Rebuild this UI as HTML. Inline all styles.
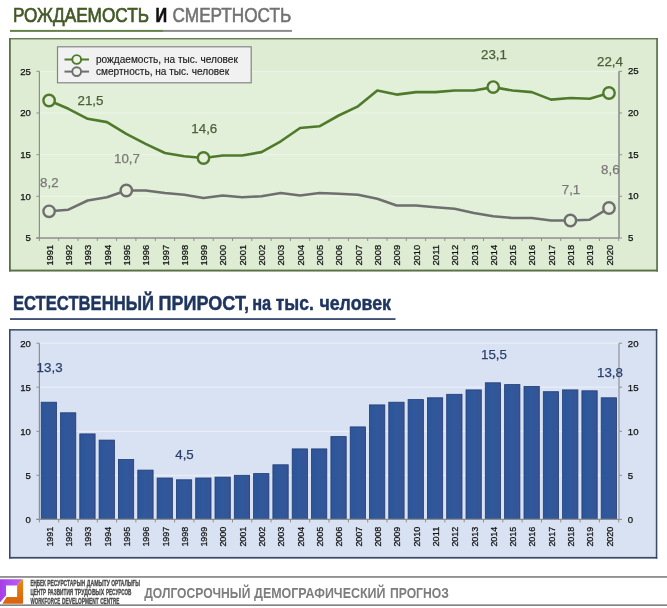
<!DOCTYPE html><html lang="ru"><head><meta charset="utf-8"><title>Рождаемость и смертность</title>
<style>html,body{margin:0;padding:0;background:#fff;}body{width:667px;height:608px;overflow:hidden;}svg{display:block;}text{font-family:"Liberation Sans",Arial,sans-serif;}</style></head><body>
<svg width="667" height="608" viewBox="0 0 667 608">
<defs><linearGradient id="lp" x1="0" y1="0" x2="1" y2="0"><stop offset="0" stop-color="#a63ee8"/><stop offset="0.7" stop-color="#b656f2"/><stop offset="1" stop-color="#c060e0"/></linearGradient><linearGradient id="lo" x1="0" y1="0" x2="0" y2="1"><stop offset="0" stop-color="#e58a12"/><stop offset="1" stop-color="#d9620f"/></linearGradient><linearGradient id="bg" x1="0" y1="0" x2="1" y2="0"><stop offset="0" stop-color="#2c569a"/><stop offset="0.5" stop-color="#30589b"/><stop offset="1" stop-color="#365495"/></linearGradient></defs>
<rect width="667" height="608" fill="#fff"/>
<text x="13" y="22.3" font-size="20.6" fill="#435927" stroke="#435927" stroke-width="0.7" textLength="136" lengthAdjust="spacingAndGlyphs">РОЖДАЕМОСТЬ</text>
<text x="155.4" y="22.3" font-size="20.6" fill="#111" stroke="#111" stroke-width="0.7" font-weight="bold" textLength="11.6" lengthAdjust="spacingAndGlyphs">И</text>
<text x="172.6" y="22.3" font-size="20.6" fill="#727272" stroke="#727272" stroke-width="0.6" textLength="118.6" lengthAdjust="spacingAndGlyphs">СМЕРТНОСТЬ</text>
<rect x="10" y="29.9" width="153" height="2" fill="#66804a"/>
<rect x="163" y="29.9" width="129" height="2" fill="#8c8c8c"/>
<rect x="9" y="38.1" width="648.9" height="233.4" fill="#deecd4"/>
<rect x="9" y="38.1" width="648.9" height="1.3" fill="#5a7046"/>
<rect x="9" y="269.6" width="648.9" height="1.9" fill="#5a7046"/>
<rect x="9" y="38.1" width="1.8" height="233.4" fill="#5a7046"/>
<rect x="656.2" y="38.1" width="1.7" height="233.4" fill="#5a7046"/>
<rect x="39.4" y="71.3" width="579.6" height="166.7" fill="#e2f0da"/>
<line x1="39.4" x2="619" y1="71.3" y2="71.3" stroke="#eef6e8" stroke-width="1"/>
<line x1="39.4" x2="619" y1="113.0" y2="113.0" stroke="#eef6e8" stroke-width="1"/>
<line x1="39.4" x2="619" y1="154.7" y2="154.7" stroke="#eef6e8" stroke-width="1"/>
<line x1="39.4" x2="619" y1="196.3" y2="196.3" stroke="#eef6e8" stroke-width="1"/>
<line x1="39.4" x2="39.4" y1="71.3" y2="238.0" stroke="#8f8f8f" stroke-width="1.2"/>
<line x1="619" x2="619" y1="71.3" y2="238.0" stroke="#8f8f8f" stroke-width="1.6"/>
<line x1="36.4" x2="619" y1="238.0" y2="238.0" stroke="#8f8f8f" stroke-width="1.3"/>
<line x1="36.4" x2="39.4" y1="71.3" y2="71.3" stroke="#8f8f8f" stroke-width="1"/>
<line x1="619" x2="622" y1="71.3" y2="71.3" stroke="#8f8f8f" stroke-width="1"/>
<text x="30.9" y="74.6" font-size="9.6" fill="#111" stroke="#111" stroke-width="0.25" text-anchor="end">25</text>
<text x="628" y="74.4" font-size="9.6" fill="#111" stroke="#111" stroke-width="0.25">25</text>
<line x1="36.4" x2="39.4" y1="113.0" y2="113.0" stroke="#8f8f8f" stroke-width="1"/>
<line x1="619" x2="622" y1="113.0" y2="113.0" stroke="#8f8f8f" stroke-width="1"/>
<text x="30.9" y="116.3" font-size="9.6" fill="#111" stroke="#111" stroke-width="0.25" text-anchor="end">20</text>
<text x="628" y="116.1" font-size="9.6" fill="#111" stroke="#111" stroke-width="0.25">20</text>
<line x1="36.4" x2="39.4" y1="154.7" y2="154.7" stroke="#8f8f8f" stroke-width="1"/>
<line x1="619" x2="622" y1="154.7" y2="154.7" stroke="#8f8f8f" stroke-width="1"/>
<text x="30.9" y="158.0" font-size="9.6" fill="#111" stroke="#111" stroke-width="0.25" text-anchor="end">15</text>
<text x="628" y="157.8" font-size="9.6" fill="#111" stroke="#111" stroke-width="0.25">15</text>
<line x1="36.4" x2="39.4" y1="196.3" y2="196.3" stroke="#8f8f8f" stroke-width="1"/>
<line x1="619" x2="622" y1="196.3" y2="196.3" stroke="#8f8f8f" stroke-width="1"/>
<text x="30.9" y="199.6" font-size="9.6" fill="#111" stroke="#111" stroke-width="0.25" text-anchor="end">10</text>
<text x="628" y="199.4" font-size="9.6" fill="#111" stroke="#111" stroke-width="0.25">10</text>
<line x1="36.4" x2="39.4" y1="238.0" y2="238.0" stroke="#8f8f8f" stroke-width="1"/>
<line x1="619" x2="622" y1="238.0" y2="238.0" stroke="#8f8f8f" stroke-width="1"/>
<text x="30.9" y="241.3" font-size="9.6" fill="#111" stroke="#111" stroke-width="0.25" text-anchor="end">5</text>
<text x="628" y="241.1" font-size="9.6" fill="#111" stroke="#111" stroke-width="0.25">5</text>
<line x1="39.4" x2="39.4" y1="238.0" y2="241.0" stroke="#8f8f8f" stroke-width="1"/>
<line x1="58.7" x2="58.7" y1="238.0" y2="241.0" stroke="#8f8f8f" stroke-width="1"/>
<line x1="78.0" x2="78.0" y1="238.0" y2="241.0" stroke="#8f8f8f" stroke-width="1"/>
<line x1="97.3" x2="97.3" y1="238.0" y2="241.0" stroke="#8f8f8f" stroke-width="1"/>
<line x1="116.6" x2="116.6" y1="238.0" y2="241.0" stroke="#8f8f8f" stroke-width="1"/>
<line x1="135.9" x2="135.9" y1="238.0" y2="241.0" stroke="#8f8f8f" stroke-width="1"/>
<line x1="155.3" x2="155.3" y1="238.0" y2="241.0" stroke="#8f8f8f" stroke-width="1"/>
<line x1="174.6" x2="174.6" y1="238.0" y2="241.0" stroke="#8f8f8f" stroke-width="1"/>
<line x1="193.9" x2="193.9" y1="238.0" y2="241.0" stroke="#8f8f8f" stroke-width="1"/>
<line x1="213.2" x2="213.2" y1="238.0" y2="241.0" stroke="#8f8f8f" stroke-width="1"/>
<line x1="232.5" x2="232.5" y1="238.0" y2="241.0" stroke="#8f8f8f" stroke-width="1"/>
<line x1="251.8" x2="251.8" y1="238.0" y2="241.0" stroke="#8f8f8f" stroke-width="1"/>
<line x1="271.1" x2="271.1" y1="238.0" y2="241.0" stroke="#8f8f8f" stroke-width="1"/>
<line x1="290.4" x2="290.4" y1="238.0" y2="241.0" stroke="#8f8f8f" stroke-width="1"/>
<line x1="309.7" x2="309.7" y1="238.0" y2="241.0" stroke="#8f8f8f" stroke-width="1"/>
<line x1="329.0" x2="329.0" y1="238.0" y2="241.0" stroke="#8f8f8f" stroke-width="1"/>
<line x1="348.4" x2="348.4" y1="238.0" y2="241.0" stroke="#8f8f8f" stroke-width="1"/>
<line x1="367.7" x2="367.7" y1="238.0" y2="241.0" stroke="#8f8f8f" stroke-width="1"/>
<line x1="387.0" x2="387.0" y1="238.0" y2="241.0" stroke="#8f8f8f" stroke-width="1"/>
<line x1="406.3" x2="406.3" y1="238.0" y2="241.0" stroke="#8f8f8f" stroke-width="1"/>
<line x1="425.6" x2="425.6" y1="238.0" y2="241.0" stroke="#8f8f8f" stroke-width="1"/>
<line x1="444.9" x2="444.9" y1="238.0" y2="241.0" stroke="#8f8f8f" stroke-width="1"/>
<line x1="464.2" x2="464.2" y1="238.0" y2="241.0" stroke="#8f8f8f" stroke-width="1"/>
<line x1="483.5" x2="483.5" y1="238.0" y2="241.0" stroke="#8f8f8f" stroke-width="1"/>
<line x1="502.8" x2="502.8" y1="238.0" y2="241.0" stroke="#8f8f8f" stroke-width="1"/>
<line x1="522.1" x2="522.1" y1="238.0" y2="241.0" stroke="#8f8f8f" stroke-width="1"/>
<line x1="541.5" x2="541.5" y1="238.0" y2="241.0" stroke="#8f8f8f" stroke-width="1"/>
<line x1="560.8" x2="560.8" y1="238.0" y2="241.0" stroke="#8f8f8f" stroke-width="1"/>
<line x1="580.1" x2="580.1" y1="238.0" y2="241.0" stroke="#8f8f8f" stroke-width="1"/>
<line x1="599.4" x2="599.4" y1="238.0" y2="241.0" stroke="#8f8f8f" stroke-width="1"/>
<line x1="618.7" x2="618.7" y1="238.0" y2="241.0" stroke="#8f8f8f" stroke-width="1"/>
<text transform="translate(52.7,265.6) rotate(-90)" font-size="9.9" fill="#111" stroke="#111" stroke-width="0.25" textLength="20.8" lengthAdjust="spacingAndGlyphs">1991</text>
<text transform="translate(72.0,265.6) rotate(-90)" font-size="9.9" fill="#111" stroke="#111" stroke-width="0.25" textLength="20.8" lengthAdjust="spacingAndGlyphs">1992</text>
<text transform="translate(91.3,265.6) rotate(-90)" font-size="9.9" fill="#111" stroke="#111" stroke-width="0.25" textLength="20.8" lengthAdjust="spacingAndGlyphs">1993</text>
<text transform="translate(110.6,265.6) rotate(-90)" font-size="9.9" fill="#111" stroke="#111" stroke-width="0.25" textLength="20.8" lengthAdjust="spacingAndGlyphs">1994</text>
<text transform="translate(129.9,265.6) rotate(-90)" font-size="9.9" fill="#111" stroke="#111" stroke-width="0.25" textLength="20.8" lengthAdjust="spacingAndGlyphs">1995</text>
<text transform="translate(149.2,265.6) rotate(-90)" font-size="9.9" fill="#111" stroke="#111" stroke-width="0.25" textLength="20.8" lengthAdjust="spacingAndGlyphs">1996</text>
<text transform="translate(168.5,265.6) rotate(-90)" font-size="9.9" fill="#111" stroke="#111" stroke-width="0.25" textLength="20.8" lengthAdjust="spacingAndGlyphs">1997</text>
<text transform="translate(187.8,265.6) rotate(-90)" font-size="9.9" fill="#111" stroke="#111" stroke-width="0.25" textLength="20.8" lengthAdjust="spacingAndGlyphs">1998</text>
<text transform="translate(207.1,265.6) rotate(-90)" font-size="9.9" fill="#111" stroke="#111" stroke-width="0.25" textLength="20.8" lengthAdjust="spacingAndGlyphs">1999</text>
<text transform="translate(226.4,265.6) rotate(-90)" font-size="9.9" fill="#111" stroke="#111" stroke-width="0.25" textLength="20.8" lengthAdjust="spacingAndGlyphs">2000</text>
<text transform="translate(245.8,265.6) rotate(-90)" font-size="9.9" fill="#111" stroke="#111" stroke-width="0.25" textLength="20.8" lengthAdjust="spacingAndGlyphs">2001</text>
<text transform="translate(265.1,265.6) rotate(-90)" font-size="9.9" fill="#111" stroke="#111" stroke-width="0.25" textLength="20.8" lengthAdjust="spacingAndGlyphs">2002</text>
<text transform="translate(284.4,265.6) rotate(-90)" font-size="9.9" fill="#111" stroke="#111" stroke-width="0.25" textLength="20.8" lengthAdjust="spacingAndGlyphs">2003</text>
<text transform="translate(303.7,265.6) rotate(-90)" font-size="9.9" fill="#111" stroke="#111" stroke-width="0.25" textLength="20.8" lengthAdjust="spacingAndGlyphs">2004</text>
<text transform="translate(323.0,265.6) rotate(-90)" font-size="9.9" fill="#111" stroke="#111" stroke-width="0.25" textLength="20.8" lengthAdjust="spacingAndGlyphs">2005</text>
<text transform="translate(342.3,265.6) rotate(-90)" font-size="9.9" fill="#111" stroke="#111" stroke-width="0.25" textLength="20.8" lengthAdjust="spacingAndGlyphs">2006</text>
<text transform="translate(361.6,265.6) rotate(-90)" font-size="9.9" fill="#111" stroke="#111" stroke-width="0.25" textLength="20.8" lengthAdjust="spacingAndGlyphs">2007</text>
<text transform="translate(380.9,265.6) rotate(-90)" font-size="9.9" fill="#111" stroke="#111" stroke-width="0.25" textLength="20.8" lengthAdjust="spacingAndGlyphs">2008</text>
<text transform="translate(400.2,265.6) rotate(-90)" font-size="9.9" fill="#111" stroke="#111" stroke-width="0.25" textLength="20.8" lengthAdjust="spacingAndGlyphs">2009</text>
<text transform="translate(419.5,265.6) rotate(-90)" font-size="9.9" fill="#111" stroke="#111" stroke-width="0.25" textLength="20.8" lengthAdjust="spacingAndGlyphs">2010</text>
<text transform="translate(438.9,265.6) rotate(-90)" font-size="9.9" fill="#111" stroke="#111" stroke-width="0.25" textLength="20.8" lengthAdjust="spacingAndGlyphs">2011</text>
<text transform="translate(458.2,265.6) rotate(-90)" font-size="9.9" fill="#111" stroke="#111" stroke-width="0.25" textLength="20.8" lengthAdjust="spacingAndGlyphs">2012</text>
<text transform="translate(477.5,265.6) rotate(-90)" font-size="9.9" fill="#111" stroke="#111" stroke-width="0.25" textLength="20.8" lengthAdjust="spacingAndGlyphs">2013</text>
<text transform="translate(496.8,265.6) rotate(-90)" font-size="9.9" fill="#111" stroke="#111" stroke-width="0.25" textLength="20.8" lengthAdjust="spacingAndGlyphs">2014</text>
<text transform="translate(516.1,265.6) rotate(-90)" font-size="9.9" fill="#111" stroke="#111" stroke-width="0.25" textLength="20.8" lengthAdjust="spacingAndGlyphs">2015</text>
<text transform="translate(535.4,265.6) rotate(-90)" font-size="9.9" fill="#111" stroke="#111" stroke-width="0.25" textLength="20.8" lengthAdjust="spacingAndGlyphs">2016</text>
<text transform="translate(554.7,265.6) rotate(-90)" font-size="9.9" fill="#111" stroke="#111" stroke-width="0.25" textLength="20.8" lengthAdjust="spacingAndGlyphs">2017</text>
<text transform="translate(574.0,265.6) rotate(-90)" font-size="9.9" fill="#111" stroke="#111" stroke-width="0.25" textLength="20.8" lengthAdjust="spacingAndGlyphs">2018</text>
<text transform="translate(593.3,265.6) rotate(-90)" font-size="9.9" fill="#111" stroke="#111" stroke-width="0.25" textLength="20.8" lengthAdjust="spacingAndGlyphs">2019</text>
<text transform="translate(612.6,265.6) rotate(-90)" font-size="9.9" fill="#111" stroke="#111" stroke-width="0.25" textLength="20.8" lengthAdjust="spacingAndGlyphs">2020</text>
<polyline points="49.1,100.5 68.4,108.8 87.7,118.8 107.0,122.1 126.3,133.8 145.6,143.8 164.9,153.0 184.2,156.3 203.5,158.0 222.8,155.5 242.2,155.5 261.5,152.1 280.8,141.3 300.1,128.0 319.4,126.3 338.7,115.5 358.0,106.3 377.3,90.5 396.6,94.6 415.9,92.1 435.3,92.1 454.6,90.5 473.9,90.5 493.2,87.1 512.5,90.5 531.8,92.1 551.1,99.6 570.4,98.0 589.7,98.8 609.0,93.0" fill="none" stroke="#4f7a2b" stroke-width="2.6" stroke-linejoin="round" stroke-linecap="round"/>
<polyline points="49.1,211.3 68.4,209.7 87.7,200.5 107.0,197.2 126.3,190.5 145.6,190.5 164.9,193.0 184.2,194.7 203.5,198.0 222.8,195.5 242.2,197.2 261.5,196.3 280.8,193.0 300.1,195.5 319.4,193.0 338.7,193.8 358.0,194.7 377.3,198.8 396.6,205.5 415.9,205.5 435.3,207.2 454.6,208.8 473.9,213.0 493.2,216.3 512.5,218.0 531.8,218.0 551.1,220.5 570.4,220.5 589.7,219.7 609.0,208.0" fill="none" stroke="#6f6f6f" stroke-width="2.6" stroke-linejoin="round" stroke-linecap="round"/>
<circle cx="49.1" cy="100.5" r="5.7" fill="#e4f0db" stroke="#4f7a2b" stroke-width="2.4"/>
<circle cx="203.5" cy="158.0" r="5.7" fill="#e4f0db" stroke="#4f7a2b" stroke-width="2.4"/>
<circle cx="493.2" cy="87.1" r="5.7" fill="#e4f0db" stroke="#4f7a2b" stroke-width="2.4"/>
<circle cx="609.0" cy="93.0" r="5.7" fill="#e4f0db" stroke="#4f7a2b" stroke-width="2.4"/>
<circle cx="49.1" cy="211.3" r="5.7" fill="#e4f0db" stroke="#6f6f6f" stroke-width="2.4"/>
<circle cx="126.3" cy="190.5" r="5.7" fill="#e4f0db" stroke="#6f6f6f" stroke-width="2.4"/>
<circle cx="570.4" cy="220.5" r="5.7" fill="#e4f0db" stroke="#6f6f6f" stroke-width="2.4"/>
<circle cx="609.0" cy="208.0" r="5.7" fill="#e4f0db" stroke="#6f6f6f" stroke-width="2.4"/>
<text x="90.5" y="105" font-size="13.33" fill="#4b5f37" stroke="#4b5f37" stroke-width="0.25" text-anchor="middle">21,5</text>
<text x="204.3" y="133" font-size="13.33" fill="#4b5f37" stroke="#4b5f37" stroke-width="0.25" text-anchor="middle">14,6</text>
<text x="494" y="58.5" font-size="13.33" fill="#4b5f37" stroke="#4b5f37" stroke-width="0.25" text-anchor="middle">23,1</text>
<text x="610" y="66.3" font-size="13.33" fill="#4b5f37" stroke="#4b5f37" stroke-width="0.25" text-anchor="middle">22,4</text>
<text x="49.3" y="187.4" font-size="13.33" fill="#7c7777" stroke="#7c7777" stroke-width="0.25" text-anchor="middle">8,2</text>
<text x="127" y="163" font-size="13.33" fill="#7c7777" stroke="#7c7777" stroke-width="0.25" text-anchor="middle">10,7</text>
<text x="571" y="193.8" font-size="13.33" fill="#7c7777" stroke="#7c7777" stroke-width="0.25" text-anchor="middle">7,1</text>
<text x="610.3" y="173.8" font-size="13.33" fill="#7c7777" stroke="#7c7777" stroke-width="0.25" text-anchor="middle">8,6</text>
<rect x="57.5" y="46.8" width="193.7" height="36" fill="#f1f1f1" stroke="#858585" stroke-width="1.2"/>
<line x1="64.5" x2="89" y1="59.5" y2="59.5" stroke="#4f7a2b" stroke-width="2"/>
<circle cx="76.7" cy="59.5" r="4.4" fill="#eef3ea" stroke="#4f7a2b" stroke-width="1.9"/>
<text x="96" y="62.9" font-size="10.08" fill="#1a1a1a" stroke="#1a1a1a" stroke-width="0.15">рождаемость, на тыс. человек</text>
<line x1="64.5" x2="89" y1="71.6" y2="71.6" stroke="#6f6f6f" stroke-width="2"/>
<circle cx="76.7" cy="71.6" r="4.4" fill="#eef3ea" stroke="#6f6f6f" stroke-width="1.9"/>
<text x="96" y="75.0" font-size="10.08" fill="#1a1a1a" stroke="#1a1a1a" stroke-width="0.15">смертность, на тыс. человек</text>
<text x="12.9" y="309.5" font-size="19.7" fill="#1f3560" stroke="#1f3560" stroke-width="0.45" font-weight="bold" textLength="141" lengthAdjust="spacingAndGlyphs">ЕСТЕСТВЕННЫЙ</text>
<text x="158.6" y="309.5" font-size="19.7" fill="#1f3560" stroke="#1f3560" stroke-width="0.45" font-weight="bold" textLength="90.5" lengthAdjust="spacingAndGlyphs">ПРИРОСТ,</text>
<text x="252.2" y="309.5" font-size="19.7" fill="#1f3560" stroke="#1f3560" stroke-width="0.45" font-weight="bold" textLength="19" lengthAdjust="spacingAndGlyphs">на</text>
<text x="275.8" y="309.5" font-size="19.7" fill="#1f3560" stroke="#1f3560" stroke-width="0.45" font-weight="bold" textLength="38" lengthAdjust="spacingAndGlyphs">тыс.</text>
<text x="319.4" y="309.5" font-size="19.7" fill="#1f3560" stroke="#1f3560" stroke-width="0.45" font-weight="bold" textLength="71.6" lengthAdjust="spacingAndGlyphs">человек</text>
<rect x="10" y="318.2" width="385.5" height="1.7" fill="#2d3f66"/>
<rect x="9" y="329.1" width="648.3" height="229.5" fill="#d9e2f3"/>
<rect x="9" y="329.1" width="648.3" height="1.5" fill="#3c4a69"/>
<rect x="9" y="556.9" width="648.3" height="1.7" fill="#3c4a69"/>
<rect x="9" y="329.1" width="1.6" height="229.5" fill="#3c4a69"/>
<rect x="655.8" y="329.1" width="1.5" height="229.5" fill="#3c4a69"/>
<line x1="39.4" x2="619" y1="343.2" y2="343.2" stroke="#edf1fa" stroke-width="1"/>
<line x1="39.4" x2="619" y1="387.2" y2="387.2" stroke="#edf1fa" stroke-width="1"/>
<line x1="39.4" x2="619" y1="431.3" y2="431.3" stroke="#edf1fa" stroke-width="1"/>
<line x1="39.4" x2="619" y1="475.3" y2="475.3" stroke="#edf1fa" stroke-width="1"/>
<rect x="41.2" y="402.2" width="15.3" height="117.2" fill="url(#bg)" stroke="#213b74" stroke-width="0.8"/>
<rect x="60.5" y="412.8" width="15.3" height="106.6" fill="url(#bg)" stroke="#213b74" stroke-width="0.8"/>
<rect x="79.8" y="433.9" width="15.3" height="85.5" fill="url(#bg)" stroke="#213b74" stroke-width="0.8"/>
<rect x="99.1" y="440.1" width="15.3" height="79.3" fill="url(#bg)" stroke="#213b74" stroke-width="0.8"/>
<rect x="118.4" y="459.5" width="15.3" height="59.9" fill="url(#bg)" stroke="#213b74" stroke-width="0.8"/>
<rect x="137.8" y="470.1" width="15.3" height="49.3" fill="url(#bg)" stroke="#213b74" stroke-width="0.8"/>
<rect x="157.1" y="478.0" width="15.3" height="41.4" fill="url(#bg)" stroke="#213b74" stroke-width="0.8"/>
<rect x="176.4" y="479.8" width="15.3" height="39.6" fill="url(#bg)" stroke="#213b74" stroke-width="0.8"/>
<rect x="195.7" y="478.0" width="15.3" height="41.4" fill="url(#bg)" stroke="#213b74" stroke-width="0.8"/>
<rect x="215.0" y="477.1" width="15.3" height="42.3" fill="url(#bg)" stroke="#213b74" stroke-width="0.8"/>
<rect x="234.3" y="475.3" width="15.3" height="44.1" fill="url(#bg)" stroke="#213b74" stroke-width="0.8"/>
<rect x="253.6" y="473.6" width="15.3" height="45.8" fill="url(#bg)" stroke="#213b74" stroke-width="0.8"/>
<rect x="272.9" y="464.8" width="15.3" height="54.6" fill="url(#bg)" stroke="#213b74" stroke-width="0.8"/>
<rect x="292.2" y="448.9" width="15.3" height="70.5" fill="url(#bg)" stroke="#213b74" stroke-width="0.8"/>
<rect x="311.5" y="448.9" width="15.3" height="70.5" fill="url(#bg)" stroke="#213b74" stroke-width="0.8"/>
<rect x="330.9" y="436.6" width="15.3" height="82.8" fill="url(#bg)" stroke="#213b74" stroke-width="0.8"/>
<rect x="350.2" y="426.9" width="15.3" height="92.5" fill="url(#bg)" stroke="#213b74" stroke-width="0.8"/>
<rect x="369.5" y="404.9" width="15.3" height="114.5" fill="url(#bg)" stroke="#213b74" stroke-width="0.8"/>
<rect x="388.8" y="402.2" width="15.3" height="117.2" fill="url(#bg)" stroke="#213b74" stroke-width="0.8"/>
<rect x="408.1" y="399.6" width="15.3" height="119.8" fill="url(#bg)" stroke="#213b74" stroke-width="0.8"/>
<rect x="427.4" y="397.8" width="15.3" height="121.6" fill="url(#bg)" stroke="#213b74" stroke-width="0.8"/>
<rect x="446.7" y="394.3" width="15.3" height="125.1" fill="url(#bg)" stroke="#213b74" stroke-width="0.8"/>
<rect x="466.0" y="389.9" width="15.3" height="129.5" fill="url(#bg)" stroke="#213b74" stroke-width="0.8"/>
<rect x="485.3" y="382.8" width="15.3" height="136.6" fill="url(#bg)" stroke="#213b74" stroke-width="0.8"/>
<rect x="504.6" y="384.6" width="15.3" height="134.8" fill="url(#bg)" stroke="#213b74" stroke-width="0.8"/>
<rect x="524.0" y="386.4" width="15.3" height="133.0" fill="url(#bg)" stroke="#213b74" stroke-width="0.8"/>
<rect x="543.3" y="391.7" width="15.3" height="127.7" fill="url(#bg)" stroke="#213b74" stroke-width="0.8"/>
<rect x="562.6" y="389.9" width="15.3" height="129.5" fill="url(#bg)" stroke="#213b74" stroke-width="0.8"/>
<rect x="581.9" y="390.8" width="15.3" height="128.6" fill="url(#bg)" stroke="#213b74" stroke-width="0.8"/>
<rect x="601.2" y="397.8" width="15.3" height="121.6" fill="url(#bg)" stroke="#213b74" stroke-width="0.8"/>
<line x1="39.4" x2="39.4" y1="343.2" y2="519.4" stroke="#8f8f8f" stroke-width="1.2"/>
<line x1="619" x2="619" y1="343.2" y2="519.4" stroke="#9a9fab" stroke-width="1.4"/>
<line x1="36.4" x2="619" y1="519.4" y2="519.4" stroke="#8f8f8f" stroke-width="1.3"/>
<line x1="36.4" x2="39.4" y1="343.2" y2="343.2" stroke="#8f8f8f" stroke-width="1"/>
<line x1="619" x2="622" y1="343.2" y2="343.2" stroke="#8f8f8f" stroke-width="1"/>
<text x="30.9" y="346.5" font-size="9.6" fill="#111" stroke="#111" stroke-width="0.25" text-anchor="end">20</text>
<text x="627.8" y="346.8" font-size="9.6" fill="#111" stroke="#111" stroke-width="0.25">20</text>
<line x1="36.4" x2="39.4" y1="387.2" y2="387.2" stroke="#8f8f8f" stroke-width="1"/>
<line x1="619" x2="622" y1="387.2" y2="387.2" stroke="#8f8f8f" stroke-width="1"/>
<text x="30.9" y="390.6" font-size="9.6" fill="#111" stroke="#111" stroke-width="0.25" text-anchor="end">15</text>
<text x="627.8" y="390.9" font-size="9.6" fill="#111" stroke="#111" stroke-width="0.25">15</text>
<line x1="36.4" x2="39.4" y1="431.3" y2="431.3" stroke="#8f8f8f" stroke-width="1"/>
<line x1="619" x2="622" y1="431.3" y2="431.3" stroke="#8f8f8f" stroke-width="1"/>
<text x="30.9" y="434.6" font-size="9.6" fill="#111" stroke="#111" stroke-width="0.25" text-anchor="end">10</text>
<text x="627.8" y="434.9" font-size="9.6" fill="#111" stroke="#111" stroke-width="0.25">10</text>
<line x1="36.4" x2="39.4" y1="475.3" y2="475.3" stroke="#8f8f8f" stroke-width="1"/>
<line x1="619" x2="622" y1="475.3" y2="475.3" stroke="#8f8f8f" stroke-width="1"/>
<text x="30.9" y="478.6" font-size="9.6" fill="#111" stroke="#111" stroke-width="0.25" text-anchor="end">5</text>
<text x="627.8" y="478.9" font-size="9.6" fill="#111" stroke="#111" stroke-width="0.25">5</text>
<line x1="36.4" x2="39.4" y1="519.4" y2="519.4" stroke="#8f8f8f" stroke-width="1"/>
<line x1="619" x2="622" y1="519.4" y2="519.4" stroke="#8f8f8f" stroke-width="1"/>
<text x="30.9" y="522.7" font-size="9.6" fill="#111" stroke="#111" stroke-width="0.25" text-anchor="end">0</text>
<text x="627.8" y="523.0" font-size="9.6" fill="#111" stroke="#111" stroke-width="0.25">0</text>
<line x1="39.4" x2="39.4" y1="519.4" y2="522.4" stroke="#8f8f8f" stroke-width="1"/>
<line x1="58.7" x2="58.7" y1="519.4" y2="522.4" stroke="#8f8f8f" stroke-width="1"/>
<line x1="78.0" x2="78.0" y1="519.4" y2="522.4" stroke="#8f8f8f" stroke-width="1"/>
<line x1="97.3" x2="97.3" y1="519.4" y2="522.4" stroke="#8f8f8f" stroke-width="1"/>
<line x1="116.6" x2="116.6" y1="519.4" y2="522.4" stroke="#8f8f8f" stroke-width="1"/>
<line x1="135.9" x2="135.9" y1="519.4" y2="522.4" stroke="#8f8f8f" stroke-width="1"/>
<line x1="155.3" x2="155.3" y1="519.4" y2="522.4" stroke="#8f8f8f" stroke-width="1"/>
<line x1="174.6" x2="174.6" y1="519.4" y2="522.4" stroke="#8f8f8f" stroke-width="1"/>
<line x1="193.9" x2="193.9" y1="519.4" y2="522.4" stroke="#8f8f8f" stroke-width="1"/>
<line x1="213.2" x2="213.2" y1="519.4" y2="522.4" stroke="#8f8f8f" stroke-width="1"/>
<line x1="232.5" x2="232.5" y1="519.4" y2="522.4" stroke="#8f8f8f" stroke-width="1"/>
<line x1="251.8" x2="251.8" y1="519.4" y2="522.4" stroke="#8f8f8f" stroke-width="1"/>
<line x1="271.1" x2="271.1" y1="519.4" y2="522.4" stroke="#8f8f8f" stroke-width="1"/>
<line x1="290.4" x2="290.4" y1="519.4" y2="522.4" stroke="#8f8f8f" stroke-width="1"/>
<line x1="309.7" x2="309.7" y1="519.4" y2="522.4" stroke="#8f8f8f" stroke-width="1"/>
<line x1="329.0" x2="329.0" y1="519.4" y2="522.4" stroke="#8f8f8f" stroke-width="1"/>
<line x1="348.4" x2="348.4" y1="519.4" y2="522.4" stroke="#8f8f8f" stroke-width="1"/>
<line x1="367.7" x2="367.7" y1="519.4" y2="522.4" stroke="#8f8f8f" stroke-width="1"/>
<line x1="387.0" x2="387.0" y1="519.4" y2="522.4" stroke="#8f8f8f" stroke-width="1"/>
<line x1="406.3" x2="406.3" y1="519.4" y2="522.4" stroke="#8f8f8f" stroke-width="1"/>
<line x1="425.6" x2="425.6" y1="519.4" y2="522.4" stroke="#8f8f8f" stroke-width="1"/>
<line x1="444.9" x2="444.9" y1="519.4" y2="522.4" stroke="#8f8f8f" stroke-width="1"/>
<line x1="464.2" x2="464.2" y1="519.4" y2="522.4" stroke="#8f8f8f" stroke-width="1"/>
<line x1="483.5" x2="483.5" y1="519.4" y2="522.4" stroke="#8f8f8f" stroke-width="1"/>
<line x1="502.8" x2="502.8" y1="519.4" y2="522.4" stroke="#8f8f8f" stroke-width="1"/>
<line x1="522.1" x2="522.1" y1="519.4" y2="522.4" stroke="#8f8f8f" stroke-width="1"/>
<line x1="541.5" x2="541.5" y1="519.4" y2="522.4" stroke="#8f8f8f" stroke-width="1"/>
<line x1="560.8" x2="560.8" y1="519.4" y2="522.4" stroke="#8f8f8f" stroke-width="1"/>
<line x1="580.1" x2="580.1" y1="519.4" y2="522.4" stroke="#8f8f8f" stroke-width="1"/>
<line x1="599.4" x2="599.4" y1="519.4" y2="522.4" stroke="#8f8f8f" stroke-width="1"/>
<line x1="618.7" x2="618.7" y1="519.4" y2="522.4" stroke="#8f8f8f" stroke-width="1"/>
<text transform="translate(52.7,546.6) rotate(-90)" font-size="9.9" fill="#111" stroke="#111" stroke-width="0.25" textLength="19.9" lengthAdjust="spacingAndGlyphs">1991</text>
<text transform="translate(72.0,546.6) rotate(-90)" font-size="9.9" fill="#111" stroke="#111" stroke-width="0.25" textLength="19.9" lengthAdjust="spacingAndGlyphs">1992</text>
<text transform="translate(91.3,546.6) rotate(-90)" font-size="9.9" fill="#111" stroke="#111" stroke-width="0.25" textLength="19.9" lengthAdjust="spacingAndGlyphs">1993</text>
<text transform="translate(110.6,546.6) rotate(-90)" font-size="9.9" fill="#111" stroke="#111" stroke-width="0.25" textLength="19.9" lengthAdjust="spacingAndGlyphs">1994</text>
<text transform="translate(129.9,546.6) rotate(-90)" font-size="9.9" fill="#111" stroke="#111" stroke-width="0.25" textLength="19.9" lengthAdjust="spacingAndGlyphs">1995</text>
<text transform="translate(149.2,546.6) rotate(-90)" font-size="9.9" fill="#111" stroke="#111" stroke-width="0.25" textLength="19.9" lengthAdjust="spacingAndGlyphs">1996</text>
<text transform="translate(168.5,546.6) rotate(-90)" font-size="9.9" fill="#111" stroke="#111" stroke-width="0.25" textLength="19.9" lengthAdjust="spacingAndGlyphs">1997</text>
<text transform="translate(187.8,546.6) rotate(-90)" font-size="9.9" fill="#111" stroke="#111" stroke-width="0.25" textLength="19.9" lengthAdjust="spacingAndGlyphs">1998</text>
<text transform="translate(207.1,546.6) rotate(-90)" font-size="9.9" fill="#111" stroke="#111" stroke-width="0.25" textLength="19.9" lengthAdjust="spacingAndGlyphs">1999</text>
<text transform="translate(226.4,546.6) rotate(-90)" font-size="9.9" fill="#111" stroke="#111" stroke-width="0.25" textLength="19.9" lengthAdjust="spacingAndGlyphs">2000</text>
<text transform="translate(245.8,546.6) rotate(-90)" font-size="9.9" fill="#111" stroke="#111" stroke-width="0.25" textLength="19.9" lengthAdjust="spacingAndGlyphs">2001</text>
<text transform="translate(265.1,546.6) rotate(-90)" font-size="9.9" fill="#111" stroke="#111" stroke-width="0.25" textLength="19.9" lengthAdjust="spacingAndGlyphs">2002</text>
<text transform="translate(284.4,546.6) rotate(-90)" font-size="9.9" fill="#111" stroke="#111" stroke-width="0.25" textLength="19.9" lengthAdjust="spacingAndGlyphs">2003</text>
<text transform="translate(303.7,546.6) rotate(-90)" font-size="9.9" fill="#111" stroke="#111" stroke-width="0.25" textLength="19.9" lengthAdjust="spacingAndGlyphs">2004</text>
<text transform="translate(323.0,546.6) rotate(-90)" font-size="9.9" fill="#111" stroke="#111" stroke-width="0.25" textLength="19.9" lengthAdjust="spacingAndGlyphs">2005</text>
<text transform="translate(342.3,546.6) rotate(-90)" font-size="9.9" fill="#111" stroke="#111" stroke-width="0.25" textLength="19.9" lengthAdjust="spacingAndGlyphs">2006</text>
<text transform="translate(361.6,546.6) rotate(-90)" font-size="9.9" fill="#111" stroke="#111" stroke-width="0.25" textLength="19.9" lengthAdjust="spacingAndGlyphs">2007</text>
<text transform="translate(380.9,546.6) rotate(-90)" font-size="9.9" fill="#111" stroke="#111" stroke-width="0.25" textLength="19.9" lengthAdjust="spacingAndGlyphs">2008</text>
<text transform="translate(400.2,546.6) rotate(-90)" font-size="9.9" fill="#111" stroke="#111" stroke-width="0.25" textLength="19.9" lengthAdjust="spacingAndGlyphs">2009</text>
<text transform="translate(419.5,546.6) rotate(-90)" font-size="9.9" fill="#111" stroke="#111" stroke-width="0.25" textLength="19.9" lengthAdjust="spacingAndGlyphs">2010</text>
<text transform="translate(438.9,546.6) rotate(-90)" font-size="9.9" fill="#111" stroke="#111" stroke-width="0.25" textLength="19.9" lengthAdjust="spacingAndGlyphs">2011</text>
<text transform="translate(458.2,546.6) rotate(-90)" font-size="9.9" fill="#111" stroke="#111" stroke-width="0.25" textLength="19.9" lengthAdjust="spacingAndGlyphs">2012</text>
<text transform="translate(477.5,546.6) rotate(-90)" font-size="9.9" fill="#111" stroke="#111" stroke-width="0.25" textLength="19.9" lengthAdjust="spacingAndGlyphs">2013</text>
<text transform="translate(496.8,546.6) rotate(-90)" font-size="9.9" fill="#111" stroke="#111" stroke-width="0.25" textLength="19.9" lengthAdjust="spacingAndGlyphs">2014</text>
<text transform="translate(516.1,546.6) rotate(-90)" font-size="9.9" fill="#111" stroke="#111" stroke-width="0.25" textLength="19.9" lengthAdjust="spacingAndGlyphs">2015</text>
<text transform="translate(535.4,546.6) rotate(-90)" font-size="9.9" fill="#111" stroke="#111" stroke-width="0.25" textLength="19.9" lengthAdjust="spacingAndGlyphs">2016</text>
<text transform="translate(554.7,546.6) rotate(-90)" font-size="9.9" fill="#111" stroke="#111" stroke-width="0.25" textLength="19.9" lengthAdjust="spacingAndGlyphs">2017</text>
<text transform="translate(574.0,546.6) rotate(-90)" font-size="9.9" fill="#111" stroke="#111" stroke-width="0.25" textLength="19.9" lengthAdjust="spacingAndGlyphs">2018</text>
<text transform="translate(593.3,546.6) rotate(-90)" font-size="9.9" fill="#111" stroke="#111" stroke-width="0.25" textLength="19.9" lengthAdjust="spacingAndGlyphs">2019</text>
<text transform="translate(612.6,546.6) rotate(-90)" font-size="9.9" fill="#111" stroke="#111" stroke-width="0.25" textLength="19.9" lengthAdjust="spacingAndGlyphs">2020</text>
<text x="49.6" y="371.5" font-size="13.33" fill="#2b3f6b" stroke="#2b3f6b" stroke-width="0.25" text-anchor="middle">13,3</text>
<text x="184.5" y="459" font-size="13.33" fill="#2b3f6b" stroke="#2b3f6b" stroke-width="0.25" text-anchor="middle">4,5</text>
<text x="494" y="359.2" font-size="13.33" fill="#2b3f6b" stroke="#2b3f6b" stroke-width="0.25" text-anchor="middle">15,5</text>
<text x="610" y="376.8" font-size="13.33" fill="#2b3f6b" stroke="#2b3f6b" stroke-width="0.25" text-anchor="middle">13,8</text>
<rect x="0" y="576.2" width="667" height="1.5" fill="#777"/>
<rect x="0" y="604.4" width="667" height="1.5" fill="#777"/>
<path d="M0,579.2 H22.3 L17.1,585.4 H6 V595.5 L0,602.2 Z" fill="url(#lp)"/>
<path d="M22.3,579.2 Q23.1,579.4 23.1,580.4 V602.9 Q23.1,603.7 22.3,603.7 H2.4 L6.6,597.1 H17.1 V585.4 Z" fill="url(#lo)"/>
<text x="30.45" y="585.8" font-size="8.8" font-weight="bold" fill="#4f4f4f" stroke="#4f4f4f" stroke-width="0.4" textLength="15.4" lengthAdjust="spacingAndGlyphs">ЕҢБЕК</text>
<text x="47.25" y="585.8" font-size="8.8" font-weight="bold" fill="#4f4f4f" stroke="#4f4f4f" stroke-width="0.4" textLength="37.8" lengthAdjust="spacingAndGlyphs">РЕСУРСТАРЫН</text>
<text x="86.85" y="585.8" font-size="8.8" font-weight="bold" fill="#4f4f4f" stroke="#4f4f4f" stroke-width="0.4" textLength="23.0" lengthAdjust="spacingAndGlyphs">ДАМЫТУ</text>
<text x="111.25" y="585.8" font-size="8.8" font-weight="bold" fill="#4f4f4f" stroke="#4f4f4f" stroke-width="0.4" textLength="28.8" lengthAdjust="spacingAndGlyphs">ОРТАЛЫҒЫ</text>
<text x="30.45" y="594.6" font-size="8.8" font-weight="bold" fill="#4f4f4f" stroke="#4f4f4f" stroke-width="0.4" textLength="15.6" lengthAdjust="spacingAndGlyphs">ЦЕНТР</text>
<text x="47.65" y="594.6" font-size="8.8" font-weight="bold" fill="#4f4f4f" stroke="#4f4f4f" stroke-width="0.4" textLength="25.5" lengthAdjust="spacingAndGlyphs">РАЗВИТИЯ</text>
<text x="74.65" y="594.6" font-size="8.8" font-weight="bold" fill="#4f4f4f" stroke="#4f4f4f" stroke-width="0.4" textLength="29.5" lengthAdjust="spacingAndGlyphs">ТРУДОВЫХ</text>
<text x="105.95" y="594.6" font-size="8.8" font-weight="bold" fill="#4f4f4f" stroke="#4f4f4f" stroke-width="0.4" textLength="25.5" lengthAdjust="spacingAndGlyphs">РЕСУРСОВ</text>
<text x="30.45" y="603.6" font-size="8.8" font-weight="bold" fill="#4f4f4f" stroke="#4f4f4f" stroke-width="0.4" textLength="29.8" lengthAdjust="spacingAndGlyphs">WORKFORCE</text>
<text x="62.05" y="603.6" font-size="8.8" font-weight="bold" fill="#4f4f4f" stroke="#4f4f4f" stroke-width="0.4" textLength="36.6" lengthAdjust="spacingAndGlyphs">DEVELOPMENT</text>
<text x="100.25" y="603.6" font-size="8.8" font-weight="bold" fill="#4f4f4f" stroke="#4f4f4f" stroke-width="0.4" textLength="19.2" lengthAdjust="spacingAndGlyphs">CENTRE</text>
<text x="144.2" y="597.9" font-size="15.4" font-weight="bold" fill="#7d7d7d" textLength="106.2" lengthAdjust="spacingAndGlyphs">ДОЛГОСРОЧНЫЙ</text>
<text x="254.0" y="597.9" font-size="15.4" font-weight="bold" fill="#7d7d7d" textLength="131.5" lengthAdjust="spacingAndGlyphs">ДЕМОГРАФИЧЕСКИЙ</text>
<text x="390.0" y="597.9" font-size="15.4" font-weight="bold" fill="#7d7d7d" textLength="58.8" lengthAdjust="spacingAndGlyphs">ПРОГНОЗ</text>
</svg></body></html>
